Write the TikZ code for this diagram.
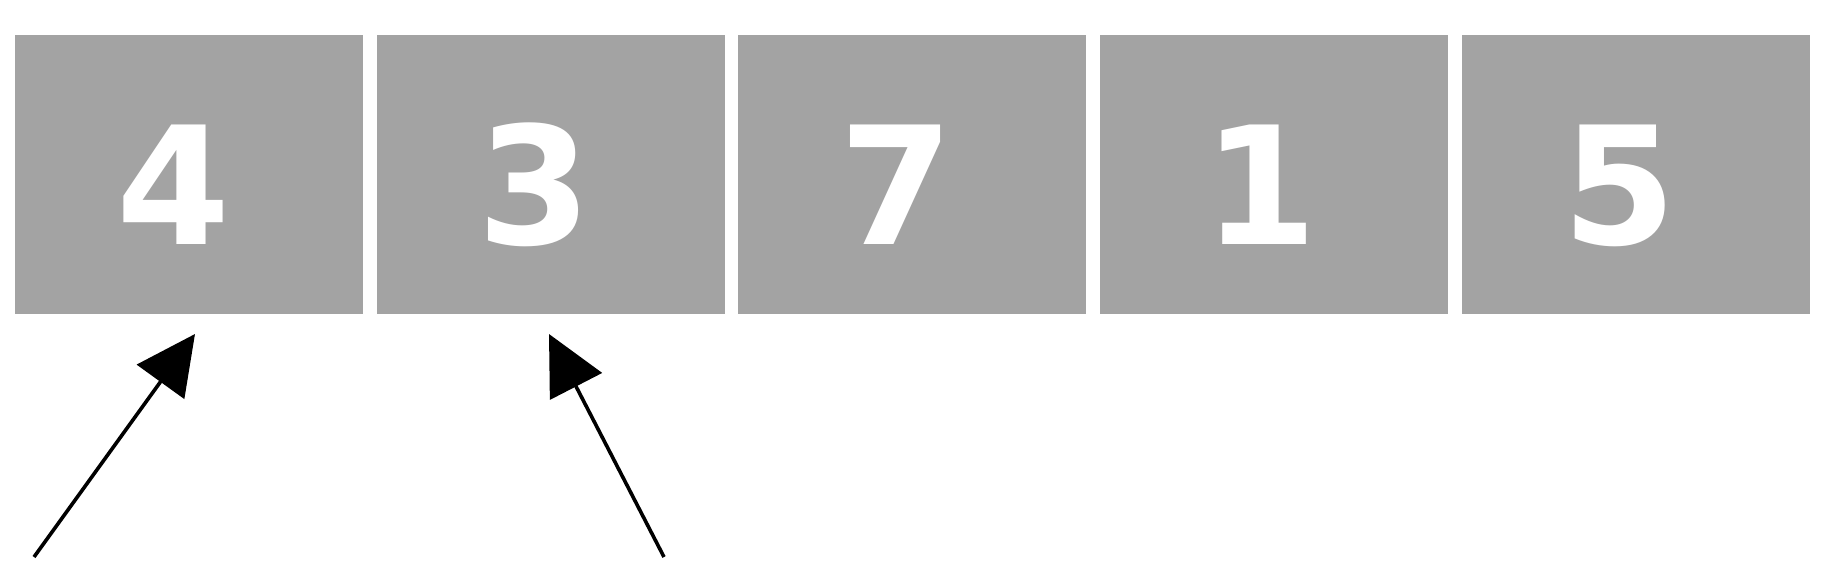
\documentclass[tikz,border=0pt]{standalone}
\usepackage{fontspec}
\setmainfont{DejaVu Sans}
\usetikzlibrary{arrows.meta}
\definecolor{cellgrey}{HTML}{A3A3A3}
\tikzset{
  cell/.style={fill=cellgrey, draw=none, minimum width=348pt, minimum height=279pt, inner sep=0pt, anchor=north west},
  digit/.style={text=white, inner sep=0pt, anchor=base, font=\fontsize{164}{164}\selectfont\bfseries},
  pointer/.style={line width=3.6pt, -{Triangle[length=59pt, width=58pt]}}
}
\begin{document}
\begin{tikzpicture}[x=1pt, y=-1pt]
\useasboundingbox[fill=white] (0,0) rectangle (1839,560);
\node[cell] (b1) at (15,35) {};
\node[cell] (b2) at (376.5,35) {};
\node[cell] (b3) at (738,35) {};
\node[cell] (b4) at (1100,35) {};
\node[cell] (b5) at (1462,35) {};
\node[digit] (d1) at (174,244) {4};
\node[digit] (d2) at (535,244) {3};
\node[digit] (d3) at (897,244) {7};
\node[digit] (d4) at (1261,244) {1};
\node[digit] (d5) at (1620,244) {5};
\coordinate (t1) at (34,557);
\coordinate (h1) at (195,334);
\coordinate (t2) at (664,557);
\coordinate (h2) at (549,334);
\draw[pointer] (t1) -- (h1);
\draw[pointer] (t2) -- (h2);
\end{tikzpicture}
\end{document}
